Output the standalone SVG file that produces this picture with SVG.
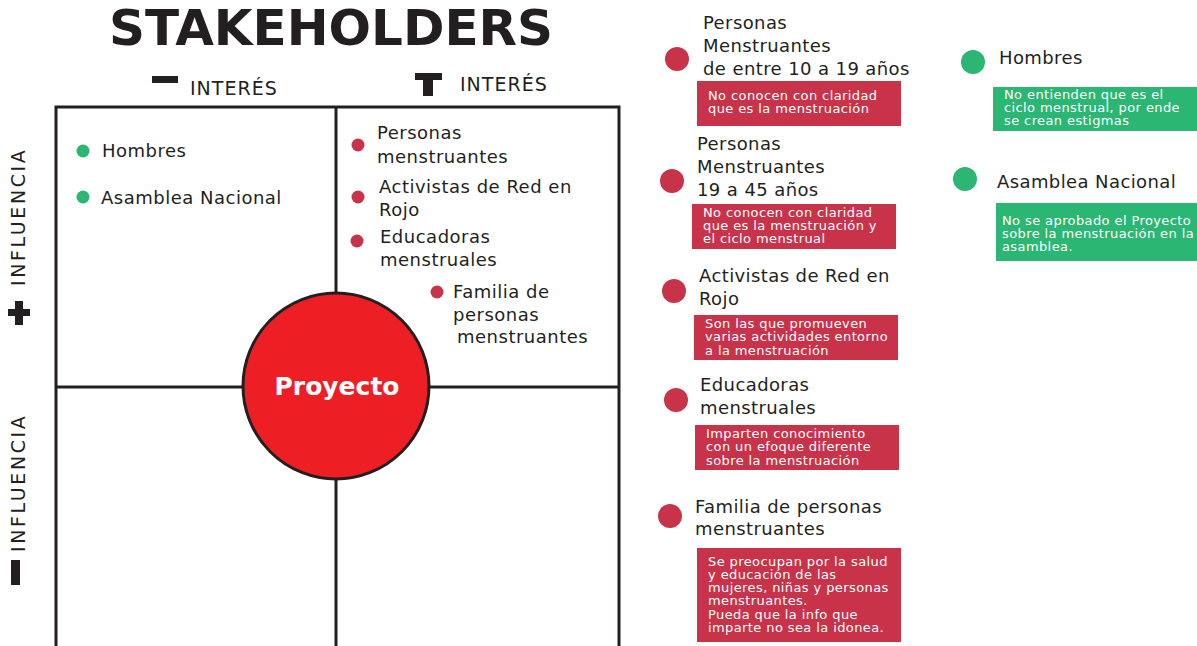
<svg xmlns="http://www.w3.org/2000/svg" width="1197" height="646" viewBox="0 0 1197 646">
<style>
text{font-family:"DejaVu Sans","Liberation Sans",sans-serif;fill:#231f20}
.title{font-size:50px;font-weight:bold}
.axis{font-size:19px;letter-spacing:1px}
.vaxis{font-size:19px;letter-spacing:2.6px}
.q{font-size:18px;letter-spacing:0.5px}
.h{font-size:18px;letter-spacing:0.4px}
.bt{font-size:13px;letter-spacing:0.4px;fill:#ffffff}
.line{stroke:#231f20;stroke-width:3;fill:none}
.red{fill:#c8334a}
.green{fill:#2bb673}
</style>
<rect width="1197" height="646" fill="#ffffff"/>
<text class="title" x="331" y="45" text-anchor="middle">STAKEHOLDERS</text>
<g id="axes">
<rect x="152" y="76" width="26" height="7" fill="#231f20"/>
<text class="axis" x="190" y="95">INTERÉS</text>
<rect x="415" y="73" width="27" height="7" fill="#231f20"/>
<rect x="423" y="73" width="10" height="23" fill="#231f20"/>
<text class="axis" x="460" y="91">INTERÉS</text>
<text class="vaxis" transform="translate(25,286) rotate(-90)">INFLUENCIA</text>
<rect x="8" y="309" width="22" height="7" fill="#231f20"/>
<rect x="15" y="301" width="8" height="24" fill="#231f20"/>
<text class="vaxis" transform="translate(25,552) rotate(-90)">INFLUENCIA</text>
<rect x="11" y="560" width="9" height="25" fill="#231f20"/>
</g>
<g id="grid">
<rect class="line" x="56" y="107" width="563" height="545"/>
<line class="line" x1="336" y1="107" x2="336" y2="646"/>
<line class="line" x1="56" y1="387" x2="619" y2="387"/>
</g>
<g id="proyecto">
<circle cx="336" cy="386" r="93" fill="#ee1f24" stroke="#231f20" stroke-width="3"/>
<text x="337" y="395" text-anchor="middle" style="font-size:25px;font-weight:bold;fill:#ffffff">Proyecto</text>
</g>
<g id="quadrant-tl">
<circle class="green" cx="83" cy="151" r="6.5"/>
<text class="q" x="102" y="157">Hombres</text>
<circle class="green" cx="83" cy="197" r="6.5"/>
<text class="q" x="101" y="204">Asamblea Nacional</text>
</g>
<g id="quadrant-tr">
<circle class="red" cx="358" cy="145" r="6.5"/>
<text class="q" x="377" y="139">Personas</text>
<text class="q" x="377" y="163">menstruantes</text>
<circle class="red" cx="358" cy="197" r="6.5"/>
<text class="q" x="379" y="193">Activistas de Red en</text>
<text class="q" x="379" y="216">Rojo</text>
<circle class="red" cx="357" cy="241" r="6.5"/>
<text class="q" x="380" y="243">Educadoras</text>
<text class="q" x="380" y="266">menstruales</text>
<circle class="red" cx="437" cy="292" r="6.5"/>
<text class="q" x="453" y="298">Familia de</text>
<text class="q" x="453" y="321">personas</text>
<text class="q" x="457" y="343">menstruantes</text>
</g>
<g id="s-personas-10-19">
<circle class="red" cx="677" cy="59" r="12"/>
<text class="h" x="703" y="29">Personas</text>
<text class="h" x="703" y="52">Menstruantes</text>
<text class="h" x="703" y="75">de entre 10 a 19 años</text>
<rect class="red" x="697" y="81" width="204" height="45"/>
<text class="bt" x="708" y="100">No conocen con claridad</text>
<text class="bt" x="708" y="113">que es la menstruación</text>
</g>
<g id="s-personas-19-45">
<circle class="red" cx="672" cy="181" r="12"/>
<text class="h" x="697" y="150">Personas</text>
<text class="h" x="697" y="173">Menstruantes</text>
<text class="h" x="697" y="196">19 a 45 años</text>
<rect class="red" x="692" y="204" width="204" height="45"/>
<text class="bt" x="703" y="217">No conocen con claridad</text>
<text class="bt" x="703" y="230">que es la menstruación y</text>
<text class="bt" x="703" y="243">el ciclo menstrual</text>
</g>
<g id="s-activistas">
<circle class="red" cx="674" cy="291" r="12"/>
<text class="h" x="699" y="282">Activistas de Red en</text>
<text class="h" x="699" y="305">Rojo</text>
<rect class="red" x="694" y="315" width="204" height="45"/>
<text class="bt" x="705" y="328">Son las que promueven</text>
<text class="bt" x="705" y="341">varias actividades entorno</text>
<text class="bt" x="705" y="355">a la menstruación</text>
</g>
<g id="s-educadoras">
<circle class="red" cx="676" cy="400" r="12"/>
<text class="h" x="700" y="391">Educadoras</text>
<text class="h" x="700" y="414">menstruales</text>
<rect class="red" x="695" y="425" width="204" height="45"/>
<text class="bt" x="706" y="438">Imparten conocimiento</text>
<text class="bt" x="706" y="451">con un efoque diferente</text>
<text class="bt" x="706" y="465">sobre la menstruación</text>
</g>
<g id="s-familia">
<circle class="red" cx="670" cy="516" r="12"/>
<text class="h" x="695" y="513">Familia de personas</text>
<text class="h" x="695" y="535">menstruantes</text>
<rect class="red" x="697" y="548" width="204" height="94"/>
<text class="bt" x="708" y="566">Se preocupan por la salud</text>
<text class="bt" x="708" y="579">y educación de las</text>
<text class="bt" x="708" y="592">mujeres, niñas y personas</text>
<text class="bt" x="708" y="605">menstruantes.</text>
<text class="bt" x="708" y="619">Pueda que la info que</text>
<text class="bt" x="708" y="632">imparte no sea la idonea.</text>
</g>
<g id="s-hombres">
<circle class="green" cx="973" cy="62" r="12"/>
<text class="h" x="999" y="64">Hombres</text>
<rect class="green" x="993" y="87" width="204" height="44"/>
<text class="bt" x="1004" y="99">No entienden que es el</text>
<text class="bt" x="1004" y="112">ciclo menstrual, por ende</text>
<text class="bt" x="1004" y="125">se crean estigmas</text>
</g>
<g id="s-asamblea">
<circle class="green" cx="965" cy="179" r="12"/>
<text class="h" x="997" y="188">Asamblea Nacional</text>
<rect class="green" x="996" y="203" width="201" height="58"/>
<text class="bt" x="1002" y="225">No se aprobado el Proyecto</text>
<text class="bt" x="1002" y="238">sobre la menstruación en la</text>
<text class="bt" x="1002" y="251">asamblea.</text>
</g>
</svg>
